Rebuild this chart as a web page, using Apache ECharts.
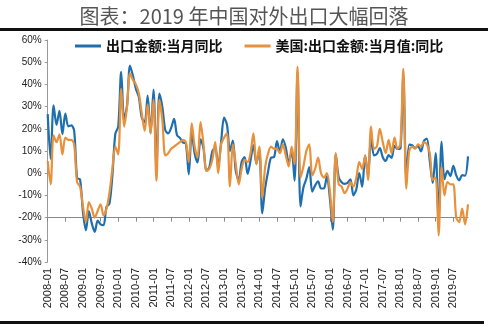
<!DOCTYPE html>
<html><head><meta charset="utf-8">
<script src="https://cdn.jsdelivr.net/npm/echarts@6/dist/echarts.min.js"></script>
<style>html,body{margin:0;padding:0;background:#fff}#c{width:488px;height:328px}</style>
</head><body><div id="c"></div>
<script>
const titleText = '图表：2019 年中国对外出口大幅回落';
const seriesNames = ['出口金额:当月同比', '美国:出口金额:当月值:同比'];
const years = [2008,2009,2010,2011,2012,2013,2014,2015,2016,2017,2018,2019];
const monthsLbl = ['01','02','03','04','05','06','07','08','09','10','11','12'];
const yTicks = [-40,-30,-20,-10,0,10,20,30,40,50,60];

const chinaExports = [
 26.6, 6.4, 30.6, 21.8, 28.1, 17.6, 26.9, 21.1, 21.5, 19.2, -2.2, -2.8,
 -17.5, -25.7, -17.1, -22.6, -26.4, -21.4, -23.0, -23.4, -15.2, -13.8, -1.2, 17.7,
 21.0, 45.7, 24.3, 30.5, 48.5, 43.9, 38.1, 34.4, 25.1, 22.9, 34.9, 17.9,
 37.7, 2.4, 35.8, 29.9, 19.4, 17.9, 20.4, 24.5, 17.1, 15.9, 13.8, 13.4,
 -0.5, 18.4, 8.9, 4.9, 15.3, 11.3, 1.0, 2.7, 9.9, 11.6, 2.9, 14.1,
 25.0, 21.8, 10.0, 14.7, 1.0, -3.1, 5.1, 7.2, -0.3, 5.6, 12.7, 4.3,
 10.6, -18.1, -6.6, 0.9, 7.0, 7.2, 14.5, 9.4, 15.3, 11.6, 4.7, 9.7,
 -3.3, 45.5, -15.0, -6.4, -2.5, 2.8, -8.3, -5.5, -3.7, -6.9, -6.8, -1.4,
 -11.2, -25.4, 8.5, -1.8, -4.1, -4.8, -4.4, -2.8, -10.0, -7.3, 0.1, -6.1,
 7.9, -1.3, 16.4, 8.0, 8.7, 11.3, 7.2, 5.5, 8.1, 6.9, 12.3, 10.9,
 11.1, 44.5, -2.7, 12.9, 12.6, 11.3, 12.2, 9.8, 14.5, 15.6, 5.4, -4.4,
 9.1, -20.7, 14.2, -2.7, 1.1, -1.3, 3.3, -1.0, -3.2, -0.9, -1.1, 7.6
];
const usExports = [
 5.4, -5, 17, 14, 17.5, 8.5, 16, 15, 15, 13, -4, -6,
 -15, -22, -13, -16, -20, -17, -14, -19, -16, -9, 2, 12,
 8.5, 38, 21, 30, 45, 42, 40, 36, 27, 19, 31, 18,
 33, -3.5, 33, 24, 8, 9, 11, 12, 13, 14, 15, 14,
 5, 22.5, 12, 7, 23, 13, 1, 2, 6, 14, 0, 13,
 16, 18, -6, 13, 4, -5, 2, 6, 5, 9, 18, 4,
 12, -11, 3, 9, 12, 11, 11, 9, 13, 8, 3, 12,
 4, 48, -2, 3, 10, 13, -1, 2, 7, 0, -2, 0,
 -8, -22, 9, -5, -6, -9, -7, -4, -6, -2, 5, 2,
 8, -3, 21, 11, 12, 20, 14, 9, 15, 9, 16, 11,
 13, 47, -7, 10, 12, 11, 13, 12, 14, 13, 9, -3,
 -2, -28, 3, -10, -4, -5, -5, -20, -22, -16, -23, -14
];

const categories = [];
years.forEach(y => monthsLbl.forEach(m => categories.push(y + '-' + m)));

const chart = echarts.init(document.getElementById('c'), null, {renderer: 'canvas'});
chart.setOption({
  animation: false,
  backgroundColor: '#fff',
  title: {
    text: titleText, left: 'center', top: 1,
    textStyle: {fontSize: 20, fontWeight: 'normal', color: '#555', fontFamily: 'Noto Sans CJK SC'}
  },
  graphic: [
    {type: 'rect', shape: {x: 0, y: 28, width: 488, height: 3}, style: {fill: '#111'}},
    {type: 'rect', shape: {x: 0, y: 321, width: 484, height: 3}, style: {fill: '#111'}}
  ],
  legend: {
    left: 70, top: 34, itemWidth: 26, itemHeight: 3, itemGap: 22, icon: 'rect',
    textStyle: {fontSize: 14, fontWeight: 'bold', color: '#111', fontFamily: 'Noto Sans CJK SC'},
    data: seriesNames
  },
  grid: {left: 47.7, right: 20, top: 40, bottom: 66, containLabel: false},
  xAxis: [
    {
      type: 'category', data: categories, boundaryGap: false, position: 'bottom',
      axisLine: {show: false, onZero: false}, axisTick: {show: false},
      axisLabel: {interval: 5, rotate: 90, fontSize: 11, color: '#222', fontFamily: 'Liberation Sans', margin: 6}
    },
    {
      type: 'category', data: categories, boundaryGap: false, position: 'top',
      axisLine: {show: true, onZero: true, onZeroAxisIndex: 1, lineStyle: {color: '#888', width: 1}},
      axisTick: {show: true, inside: true, interval: 5, length: 4, lineStyle: {color: '#888'}},
      axisLabel: {show: false}
    }
  ],
  yAxis: [
    {
      type: 'value', min: -40, max: 60, interval: 10,
      axisLine: {show: true, lineStyle: {color: '#999'}},
      axisTick: {show: true, length: 3, lineStyle: {color: '#999'}},
      splitLine: {show: false},
      axisLabel: {formatter: '{value}%', fontSize: 10, color: '#222', fontFamily: 'Liberation Sans', margin: 6}
    },
    {
      type: 'value', min: -20, max: 80, show: false, splitLine: {show: false}
    }
  ],
  series: [
    {
      name: seriesNames[0], type: 'line', data: chinaExports, xAxisIndex: 0, yAxisIndex: 0,
      smooth: 0.3, showSymbol: false, symbol: 'none',
      lineStyle: {color: '#1f6fae', width: 2.2}, itemStyle: {color: '#1f6fae'}, z: 2
    },
    {
      name: seriesNames[1], type: 'line', data: usExports, xAxisIndex: 0, yAxisIndex: 0,
      smooth: 0.3, showSymbol: false, symbol: 'none',
      lineStyle: {color: '#e8913c', width: 2.2}, itemStyle: {color: '#e8913c'}, z: 3
    }
  ]
});
</script>
</body></html>
